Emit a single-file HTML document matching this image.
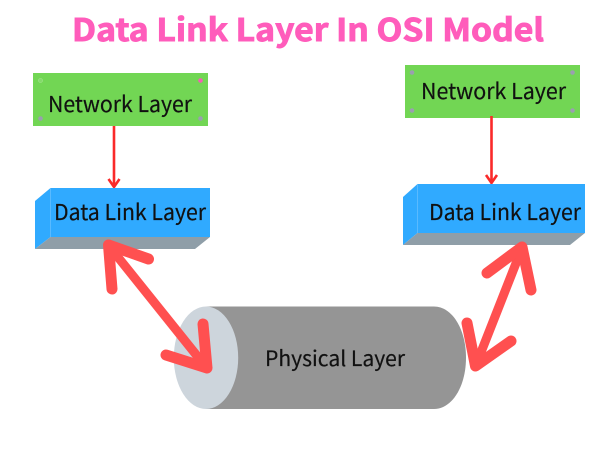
<!DOCTYPE html>
<html>
<head>
<meta charset="utf-8">
<style>
html,body{margin:0;padding:0;background:#fff;width:606px;height:465px;overflow:hidden}
svg{display:block}
text{font-family:"Noto Sans CJK JP","DejaVu Sans","Liberation Sans",sans-serif;fill:#111;stroke:#111;stroke-width:0.2px}
</style>
</head>
<body>
<svg width="606" height="465" viewBox="0 0 606 465" xmlns="http://www.w3.org/2000/svg">
<rect width="606" height="465" fill="#fff"/>
<text x="72" y="41" font-size="31" font-weight="700" style="fill:#ff5cbb;stroke:#ff5cbb;stroke-width:0.9px" textLength="472" lengthAdjust="spacingAndGlyphs">Data Link Layer In OSI Model</text>

<!-- left green -->
<rect x="33" y="73" width="175" height="53" fill="#72d654"/>
<circle cx="40.500" cy="80.500" r="2" fill="#84da6a" stroke="#a5e391" stroke-width="0.600"/>
<circle cx="200.500" cy="80.500" r="2.300" fill="#f55fb5"/>
<circle cx="40.500" cy="118.500" r="2.300" fill="#9a9fb0"/>
<circle cx="200.500" cy="118.500" r="2.300" fill="#9a9fb0"/>
<text x="48" y="112" font-size="22" textLength="144" lengthAdjust="spacingAndGlyphs">Network Layer</text>
<path d="M114 126V187M108.500 179L114 187L119.500 179" fill="none" stroke="#fa2a2a" stroke-width="2.600"/>

<!-- left blue -->
<polygon points="35,201 50.500,188 50.500,237 35,249" fill="#30aaff"/>
<rect x="50.500" y="188" width="159.500" height="49" fill="#30aaff"/>
<path d="M50.500 188V237" stroke="#6cc2ff" stroke-width="0.700"/>
<polygon points="50.500,237 210,237 195,249 35,249" fill="#8f9ea8"/>
<text x="54" y="220" font-size="22" textLength="152" lengthAdjust="spacingAndGlyphs">Data Link Layer</text>

<!-- right green -->
<rect x="405" y="65" width="175" height="53" fill="#72d654"/>
<circle cx="412" cy="72.500" r="2.300" fill="#9a9fb0"/>
<circle cx="572.500" cy="72.500" r="2.300" fill="#9a9fb0"/>
<circle cx="412" cy="110.500" r="2.300" fill="#9a9fb0"/>
<circle cx="572.500" cy="110.500" r="2.300" fill="#9a9fb0"/>
<text x="421" y="99" font-size="22" textLength="145" lengthAdjust="spacingAndGlyphs">Network Layer</text>
<path d="M491.500 116V183M486 175L491.500 183L497 175" fill="none" stroke="#fa2a2a" stroke-width="2.600"/>

<!-- right blue -->
<polygon points="403,197 417.500,184 417.500,233 403,245" fill="#30aaff"/>
<rect x="417.500" y="184" width="167.500" height="49" fill="#30aaff"/>
<path d="M417.500 184V233" stroke="#6cc2ff" stroke-width="0.700"/>
<polygon points="417.500,233 585,233 570,245 403,245" fill="#8f9ea8"/>
<text x="429" y="220" font-size="22" textLength="152" lengthAdjust="spacingAndGlyphs">Data Link Layer</text>

<!-- cylinder -->
<path d="M206 306.500H434C452 306.500 466 329 466 357.750C466 386.500 452 409 434 409H206Z" fill="#959595"/>
<ellipse cx="206" cy="357.750" rx="32.200" ry="51.250" fill="#cdd5dc"/>
<text x="265" y="366" font-size="21" textLength="140" lengthAdjust="spacingAndGlyphs">Physical Layer</text>

<!-- arrows -->
<g fill="none" stroke="#ff5050" stroke-linecap="round" stroke-linejoin="round">
<path d="M109 246L206 367" stroke-width="9"/>
<path d="M148.500 259L108.500 245L112 289M203 324L207 368L166 355" stroke-width="11"/>
<path d="M522 248L476 365" stroke-width="9"/>
<path d="M487 273L522 247L531 290M467 323L475.500 366L511 341" stroke-width="11"/>
</g>
</svg>
</body>
</html>
